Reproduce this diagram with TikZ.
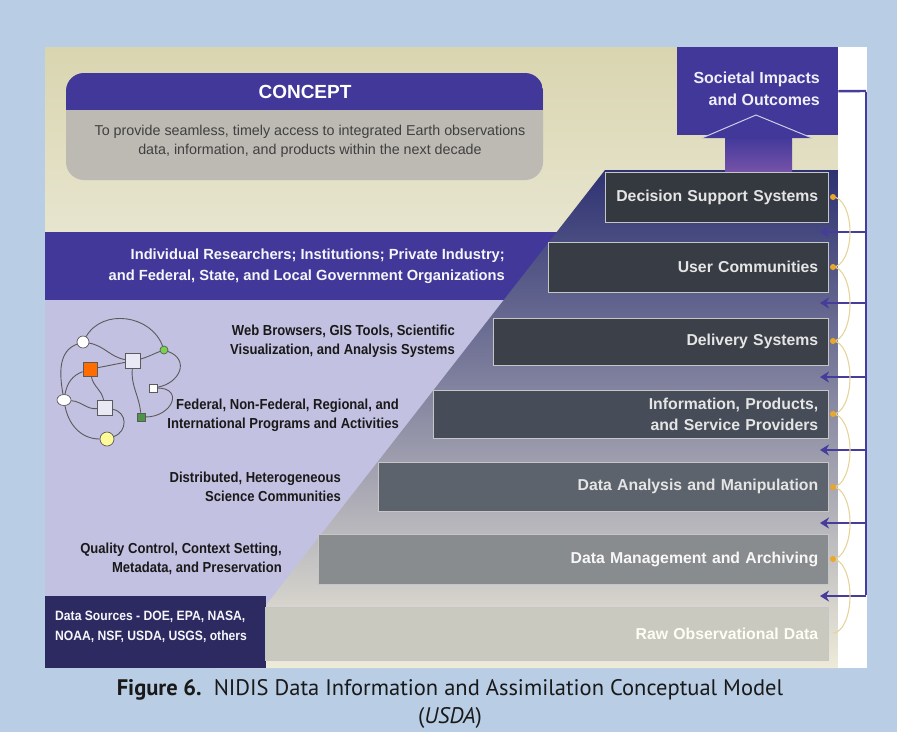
\documentclass[tikz,border=0pt]{standalone}
\usepackage{fontspec}
\setmainfont{Liberation Sans}
\newfontfamily\condfont[FakeStretch=0.9]{Liberation Sans}
\newfontfamily\capfont{PT Sans}
\usetikzlibrary{arrows.meta,shapes.geometric}
\definecolor{bgblue}{HTML}{B9CDE5}
\definecolor{purp}{HTML}{41389A}
\definecolor{lav}{HTML}{C3C1E1}
\definecolor{beigeA}{HTML}{D9D5B0}
\definecolor{beigeB}{HTML}{E7E5CF}
\definecolor{navy}{HTML}{2D2A62}
\definecolor{cgray}{HTML}{BDBAB4}
\definecolor{arrpurp}{HTML}{463C9B}
\definecolor{gold}{HTML}{E9A829}
\definecolor{goldlt}{HTML}{E6D49C}
\definecolor{box1}{HTML}{34383F}
\definecolor{box2}{HTML}{383C44}
\definecolor{box3}{HTML}{3B4049}
\definecolor{box4}{HTML}{474D58}
\definecolor{box5}{HTML}{5D636C}
\definecolor{box6}{HTML}{898C8F}
\definecolor{box7}{HTML}{CAC9BF}
\definecolor{pyrtop}{HTML}{2E3272}
\definecolor{pyrmid}{HTML}{98A0B4}
\definecolor{pyrbot}{HTML}{EEEBD9}
\definecolor{edgegray}{HTML}{5A5A5A}
\begin{document}
\begin{tikzpicture}[x=1pt,y=-1pt,
  stepbox/.style={anchor=north west, inner xsep=10pt, inner ysep=0pt, align=right,
    font=\bfseries\fontsize{15.8}{21}\selectfont, text=white!90!black, draw=white!55!gray, line width=0.5pt},
  lablbl/.style={anchor=east, align=right, inner sep=0pt, font=\condfont\bfseries\fontsize{14.5}{19}\selectfont, text=black!90},
  netedge/.style={draw=edgegray, line width=0.9pt},
  netc/.style={circle, draw=edgegray, line width=0.7pt, inner sep=0pt},
  nets/.style={rectangle, draw=edgegray, line width=0.7pt, inner sep=0pt},
  parrow/.style={draw=arrpurp, line width=2.4pt, -{Stealth[length=9pt,width=11pt]}},
  pline/.style={draw=arrpurp, line width=2.4pt},
  goldarc/.style={draw=goldlt, line width=1.1pt},
  golddot/.style={circle, fill=gold, inner sep=0pt, minimum size=6pt}]
\useasboundingbox (0,0) rectangle (897,732);
\fill[bgblue] (0,0) rectangle (897,732);
% top beige
\fill[top color=beigeA, bottom color=beigeB] (45,47) rectangle (838,232);
% lavender lower-left
\fill[lav] (45,232) rectangle (838,668);
% purple band
\fill[purp] (45,232) rectangle (600,300);
% pyramid
\path[top color=pyrtop, middle color=pyrmid, bottom color=pyrbot] (605,170) -- (838,170) -- (838,668) -- (217,668) -- cycle;
% data sources box
\fill[navy] (45,596) rectangle (266,668);
% white strip
\fill[white] (838,47) rectangle (867,668);

% concept box
\fill[cgray, rounded corners=18pt] (66,73) rectangle (543,180);
\begin{scope}
\clip[rounded corners=18pt] (66,73) rectangle (543,180);
\fill[purp] (66,73) rectangle (543,110);
\end{scope}
\node[font=\bfseries\fontsize{19}{22}\selectfont, text=white] (concept) at (305,92) {CONCEPT};
\node[align=center, font=\fontsize{14.3}{19}\selectfont, text=black!75] (concepttxt) at (310,141)
  {To provide seamless, timely access to integrated Earth observations\\data, information, and products within the next decade};

% societal box and arrow
\node[fill=purp, anchor=north west, minimum width=161pt, minimum height=88pt, inner sep=0pt] (soc) at (677,47) {};
\node[anchor=east, align=right, inner sep=0pt, font=\bfseries\fontsize{16}{22}\selectfont, text=white!92!purp] (soctxt) at (820,89) {Societal Impacts\\and Outcomes};
\fill[top color=purp, bottom color=purp!70!violet!80!white] (725,136) rectangle (792,172);
\filldraw[fill=purp, draw=white!75!purp, line width=1pt] (702,138) -- (756,115) -- (812,138);

% step boxes
\node[stepbox, fill=box1, text width=203pt, minimum height=50pt] (b1) at (605,172) {Decision Support Systems};
\node[stepbox, fill=box2, text width=260pt, minimum height=50pt] (b2) at (548,242) {User Communities};
\node[stepbox, fill=box3, text width=315pt, minimum height=47pt] (b3) at (493,318) {Delivery Systems};
\node[stepbox, fill=box4, text width=375pt, minimum height=48pt] (b4) at (433,390) {Information, Products,\\and Service Providers};
\node[stepbox, fill=box5, text width=430pt, minimum height=49pt] (b5) at (378,462) {Data Analysis and Manipulation};
\node[stepbox, fill=box6, text width=490pt, minimum height=50pt, text=white!97!black] (b6) at (318,534) {Data Management and Archiving};
\node[stepbox, fill=box7, text width=543pt, minimum height=53pt, text=white!96!yellow] (b7) at (265,607) {Raw Observational Data};

% purple band text
\node[anchor=east, align=right, inner sep=0pt, font=\bfseries\fontsize{14.7}{21}\selectfont, text=white!85!lav] (band) at (505,266)
  {Individual Researchers; Institutions; Private Industry;\\and Federal, State, and Local Government Organizations};

% lavender labels
\node[lablbl] (l1) at (455,341) {Web Browsers, GIS Tools, Scientific\\Visualization, and Analysis Systems};
\node[lablbl] (l2) at (399,415) {Federal, Non-Federal, Regional, and\\International Programs and Activities};
\node[lablbl] (l3) at (341,487) {Distributed, Heterogeneous\\Science Communities};
\node[lablbl] (l4) at (282,559) {Quality Control, Context Setting,\\Metadata, and Preservation};

% data sources
\node[anchor=west, align=left, inner sep=0pt, font=\condfont\bfseries\fontsize{13.5}{20}\selectfont, text=white!85!lav] (src) at (55,627)
  {Data Sources - DOE, EPA, NASA,\\NOAA, NSF, USDA, USGS, others};

% network
\node[netc, fill=white, minimum size=12pt] (n1) at (83,342) {};
\node[netc, fill=green!50!olive!70!white, minimum size=8pt] (n2) at (164,350) {};
\node[nets, fill=orange!85!red, minimum size=14pt] (n3) at (90,369) {};
\node[nets, fill=blue!5!white!92!gray, minimum size=15pt] (n4) at (133,361) {};
\node[nets, fill=white, minimum size=8pt] (n5) at (153,388) {};
\node[ellipse, draw=edgegray, line width=0.7pt, fill=white, minimum width=14pt, minimum height=11pt, inner sep=0pt] (n6) at (64,400) {};
\node[nets, fill=blue!5!white!92!gray, minimum size=15pt] (n7) at (105,408) {};
\node[nets, fill=green!40!black!70!white, minimum size=8pt] (n8) at (141,417) {};
\node[netc, fill=yellow!40!white, minimum size=14pt] (n9) at (107,439) {};
\draw[netedge] (n1) to[out=60,in=110,looseness=1.1] (n2);
\draw[netedge] (n1) to[out=-10,in=170] (n4);
\draw[netedge] (n3) to[out=10,in=190] (n4);
\draw[netedge] (n3) to[out=-80,in=100] (n7);
\draw[netedge] (n3) to[out=200,in=80] (n6);
\draw[netedge] (n1) to[out=200,in=100] (n6);
\draw[netedge] (n4) to[out=-95,in=95] (n8);
\draw[netedge] (n4) to[out=15,in=200] (n2);
\draw[netedge] (n2) to[out=-20,in=10,looseness=1.6] (n5);
\draw[netedge] (n5) to[out=0,in=0,looseness=2.2] (n8);
\draw[netedge] (n6) to[out=-5,in=185] (n7);
\draw[netedge] (n6) to[out=-80,in=180] (n9);
\draw[netedge] (n7) to[out=-10,in=20,looseness=1.4] (n9);

% right connectors
\coordinate (r0) at (866,91);
\coordinate (r1) at (866,232);
\coordinate (r2) at (866,303);
\coordinate (r3) at (866,377);
\coordinate (r4) at (866,450);
\coordinate (r5) at (866,523);
\coordinate (r6) at (866,596);
\coordinate (a1) at (820,232);
\coordinate (a2) at (820,303);
\coordinate (a3) at (820,377);
\coordinate (a4) at (820,450);
\coordinate (a5) at (820,523);
\coordinate (a6) at (820,596);
\draw[pline] (soc.east) -- (r0);
\draw[pline] ([yshift=-1.2pt]r0) -- ([yshift=1.2pt]r6);
\foreach \i in {1,...,6} {\draw[parrow] (r\i) -- (a\i);}

% gold arcs and dots
\coordinate (d1) at (833,197);
\coordinate (d2) at (833,267);
\coordinate (d3) at (833,341);
\coordinate (d4) at (833,414);
\coordinate (d5) at (833,487);
\coordinate (d6) at (833,559);
\draw[goldarc] (d1) arc[start angle=-90, end angle=90, x radius=17, y radius=35];
\draw[goldarc] (d2) arc[start angle=-90, end angle=90, x radius=17, y radius=37];
\draw[goldarc] (d3) arc[start angle=-90, end angle=90, x radius=17, y radius=36.5];
\draw[goldarc] (d4) arc[start angle=-90, end angle=90, x radius=17, y radius=36.5];
\draw[goldarc] (d5) arc[start angle=-90, end angle=90, x radius=17, y radius=36];
\draw[goldarc] (d6) arc[start angle=-90, end angle=90, x radius=17, y radius=37];
\foreach \i in {1,...,6} {\node[golddot] (gd\i) at (d\i) {};}

% caption
\node[font=\capfont\fontsize{22.5}{26}\selectfont, text=black!90] (cap1) at (450,690)
  {\textbf{Figure 6.}\ \ NIDIS Data Information and Assimilation Conceptual Model};
\node[font=\capfont\fontsize{22.5}{26}\selectfont, text=black!90] (cap2) at (450,718) {(\textit{USDA})};
\end{tikzpicture}
\end{document}
